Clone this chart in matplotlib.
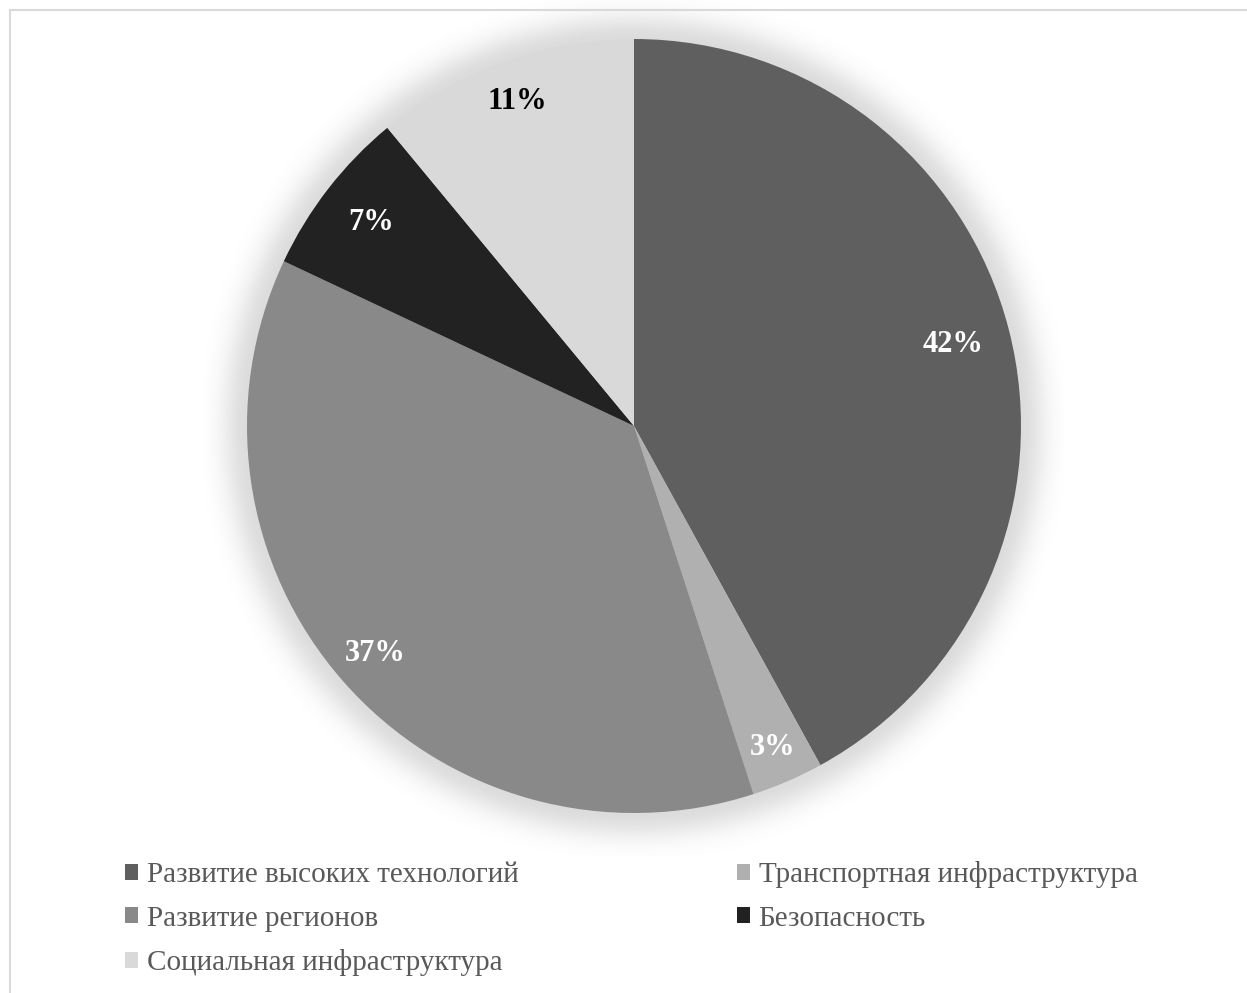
import numpy as np
import matplotlib
matplotlib.use("Agg")
import matplotlib.pyplot as plt
from matplotlib.patches import Rectangle, Patch

plt.rcParams['font.family'] = ['Liberation Serif', 'DejaVu Serif']

# Budget shares by area, clockwise from 12 o'clock
categories = ["Развитие высоких технологий", "Транспортная инфраструктура",
              "Развитие регионов", "Безопасность", "Социальная инфраструктура"]
shares = [42, 3, 37, 7, 11]
colors = ["#5f5f5f", "#b0b0b0", "#898989", "#222222", "#d9d9d9"]
label_colors = ["white", "white", "white", "white", "black"]
label_radius = [0.85, 0.905, 0.89, 0.86, 0.89]

W, H, DPI = 1247, 993, 100
fig = plt.figure(figsize=(W / DPI, H / DPI), dpi=DPI)

# Outer chart frame (runs off the right and bottom edges)
fig.patches.append(Rectangle((10 / W, -0.1), 1.2, (H - 10) / H + 0.1,
                             transform=fig.transFigure, fill=False,
                             edgecolor="#d9d9d9", linewidth=1.5))

cx, cy, R = 634, 426, 387          # pie centre and radius, pixels
half = 430
ax = fig.add_axes([(cx - half) / W, (H - cy - half) / H, 2 * half / W, 2 * half / H])
L = half / R
ax.set_xlim(-L, L)
ax.set_ylim(-L, L)
ax.set_aspect("equal")
ax.axis("off")

# Soft glow shadow around the pie
n = 700
g = np.linspace(-L, L, n)
X, Y = np.meshgrid(g, g)
D = np.hypot(X, Y)
sig = 26 / R
alpha = np.where(D <= 1, 0.14, 0.14 * np.exp(-((D - 1) / sig) ** 2))
shadow = np.zeros((n, n, 4))
shadow[..., 3] = alpha
ax.imshow(shadow, extent=[-L, L, -L, L], origin="lower", zorder=0,
          interpolation="bilinear")

wedges, texts, autotexts = ax.pie(
    shares, colors=colors, startangle=90, counterclock=False,
    autopct=lambda p: f"{p:.0f}%", pctdistance=0.88, radius=1,
    wedgeprops=dict(linewidth=0, zorder=2),
    textprops=dict(fontsize=22, fontweight="bold"))
for w, t, c, r in zip(wedges, autotexts, label_colors, label_radius):
    mid = np.deg2rad((w.theta1 + w.theta2) / 2)
    t.set_position((r * np.cos(mid), r * np.sin(mid)))
    t.set_color(c)
    t.set_zorder(3)
ax.set_xlim(-L, L)
ax.set_ylim(-L, L)

# Legend laid out row by row in two columns
order = [0, 2, 4, 1, 3]
handles = [Patch(facecolor=colors[i], edgecolor="none") for i in order]
labels = [categories[i] for i in order]
fig.legend(handles, labels, loc="upper left",
           bbox_to_anchor=(125 / W, 1 - 861 / H), ncol=2, frameon=False,
           fontsize=21, labelcolor="#595959", handlelength=0.46,
           handleheight=0.46, handletextpad=0.28, columnspacing=7.5,
           labelspacing=0.6, borderpad=0, borderaxespad=0)

fig.savefig("out.png", dpi=DPI, facecolor="white")
